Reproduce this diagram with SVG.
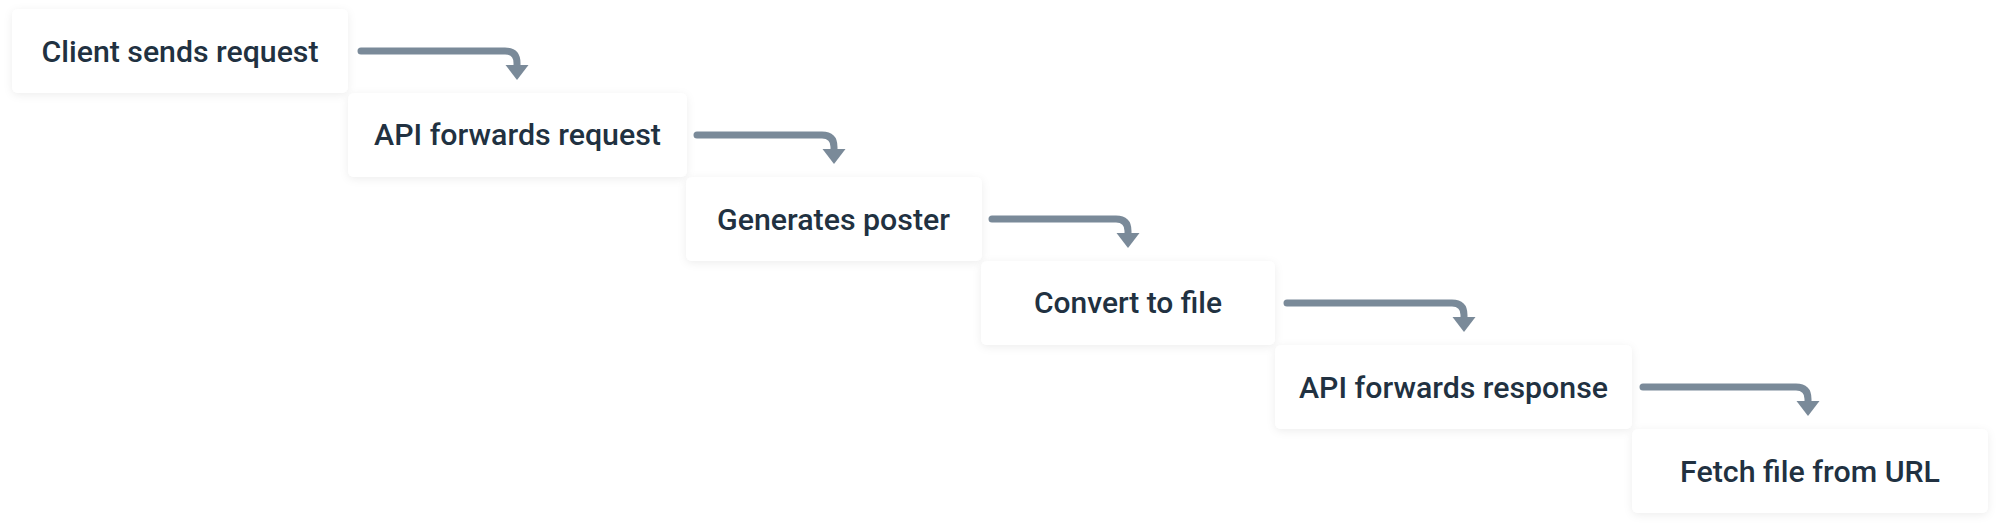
<svg xmlns="http://www.w3.org/2000/svg" width="2000" height="529" viewBox="0 0 2000 529">
  <defs>
    <filter id="sh" x="-10%" y="-30%" width="120%" height="160%">
      <feDropShadow dx="0" dy="2" stdDeviation="4" flood-color="#000" flood-opacity="0.07"/>
    </filter>
    <style>
      .box { fill: #ffffff; filter: url(#sh); }
      .lbl { font-family: Roboto, "Noto Sans", "Liberation Sans", sans-serif; font-size: 30px; font-weight: 500; fill: #213141; text-anchor: middle; }
      .ln { fill: none; stroke: #7a8a99; stroke-width: 7; stroke-linecap: round; stroke-linejoin: round; }
      .ah { fill: #7a8a99; }
    </style>
  </defs>
  <rect x="0" y="0" width="2000" height="529" fill="#ffffff"/>

  <g id="node1">
    <rect class="box" x="12" y="9" width="336" height="84" rx="6"/>
    <text class="lbl" x="180" y="62" textLength="277" lengthAdjust="spacingAndGlyphs">Client sends request</text>
  </g>
  <g id="node2">
    <rect class="box" x="348" y="93" width="339" height="84" rx="6"/>
    <text class="lbl" x="517.5" y="145" textLength="287" lengthAdjust="spacingAndGlyphs">API forwards request</text>
  </g>
  <g id="node3">
    <rect class="box" x="686" y="177" width="296" height="84" rx="6"/>
    <text class="lbl" x="833.5" y="230" textLength="233" lengthAdjust="spacingAndGlyphs">Generates poster</text>
  </g>
  <g id="node4">
    <rect class="box" x="981" y="261" width="294" height="84" rx="6"/>
    <text class="lbl" x="1128" y="313" textLength="188" lengthAdjust="spacingAndGlyphs">Convert to file</text>
  </g>
  <g id="node5">
    <rect class="box" x="1275" y="345" width="357" height="84" rx="6"/>
    <text class="lbl" x="1453.5" y="398" textLength="309" lengthAdjust="spacingAndGlyphs">API forwards response</text>
  </g>
  <g id="node6">
    <rect class="box" x="1632" y="429" width="356" height="84" rx="6"/>
    <text class="lbl" x="1810" y="482" textLength="260" lengthAdjust="spacingAndGlyphs">Fetch file from URL</text>
  </g>

  <g id="connectors">
    <path class="ln" d="M361,51 H505 Q517,51 517,63 V66"/>
    <polygon class="ah" points="505.5,65 528.5,65 517,80"/>
    <path class="ln" d="M697,135 H822 Q834,135 834,147 V150"/>
    <polygon class="ah" points="822.5,149 845.5,149 834,164"/>
    <path class="ln" d="M992,219 H1116 Q1128,219 1128,231 V234"/>
    <polygon class="ah" points="1116.5,233 1139.5,233 1128,248"/>
    <path class="ln" d="M1287,303 H1452 Q1464,303 1464,315 V318"/>
    <polygon class="ah" points="1452.5,317 1475.5,317 1464,332"/>
    <path class="ln" d="M1643,387 H1796 Q1808,387 1808,399 V402"/>
    <polygon class="ah" points="1796.5,401 1819.5,401 1808,416"/>
  </g>
</svg>
